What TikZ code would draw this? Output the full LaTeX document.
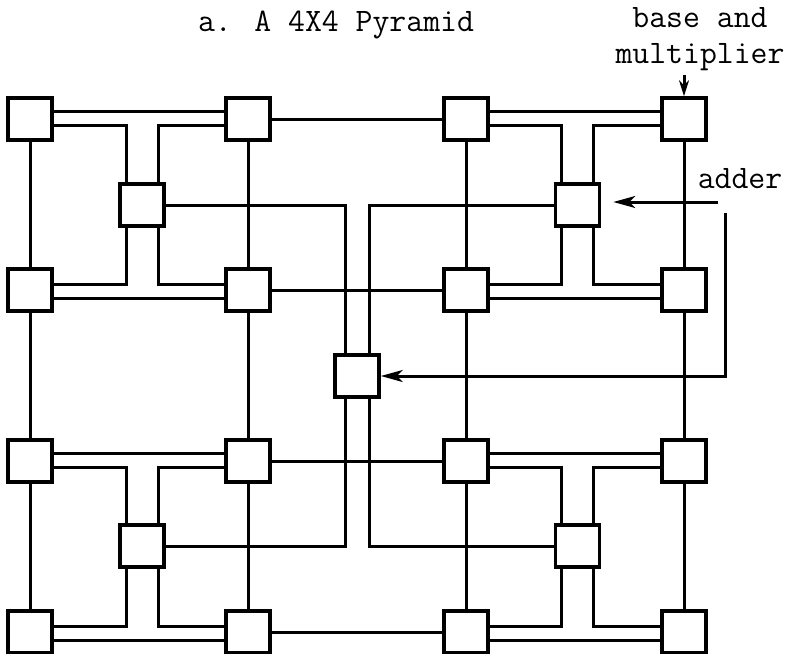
\documentclass[tikz,border=0pt]{standalone}
\usetikzlibrary{math,arrows.meta}

\begin{document}
\begin{tikzpicture}[x=0.5pt,y=-0.5pt,
    pe/.style={draw,line width=1.8pt,minimum width=22pt,minimum height=21pt,inner sep=0pt},
    wire/.style={line width=1.5pt},
    lbl/.style={font=\ttfamily\fontsize{16.4}{18}\selectfont,inner sep=0pt}]
  \useasboundingbox (0,0) rectangle (791,653);

  \foreach \i in {0,1,2,3} {
    \foreach \j in {0,1,2,3} {
      \tikzmath{
        real \x;
        real \y;
        \x = 30 + 218*\i;
        \y = 119 + 171*\j;
      }

      \node[pe] (b-\i-\j) at (\x,\y) {};
    }
  }

  \foreach \p in {0,1} {
    \foreach \q in {0,1} {
      \tikzmath{
        real \x;
        real \y;
        \x = 142 + 435.5*\p;
        \y = 205 + 341*\q;
      }

      \node[pe] (m-\p-\q) at (\x,\y) {};
    }
  }
  \node[pe] (top) at (357,376) {};

  \foreach \i in {0,1,2,3} {
    \foreach \j/\k in {0/1,1/2,2/3} {
      \draw[wire] (b-\i-\j) -- (b-\i-\k);
    }
    \draw[wire] (b-1-\i) -- (b-2-\i);
  }

  \foreach \p in {0,1} {
    \foreach \q in {0,1} {
      \tikzmath{
        int \ca;
        int \cb;
        int \ra;
        int \rb;
        \ca = 2*\p;
        \cb = \ca + 1;
        \ra = 2*\q;
        \rb = \ra + 1;
      }

      \draw[wire] ([yshift=4pt]b-\ca-\ra.east) -- ([yshift=4pt]b-\cb-\ra.west);
      \draw[wire] ([yshift=-4pt]b-\ca-\rb.east) -- ([yshift=-4pt]b-\cb-\rb.west);
      \draw[wire] ([yshift=-3pt]b-\ca-\ra.east) -| ([xshift=-8pt]m-\p-\q.north);
      \draw[wire] ([yshift=-3pt]b-\cb-\ra.west) -| ([xshift=8pt]m-\p-\q.north);
      \draw[wire] ([yshift=3pt]b-\ca-\rb.east) -| ([xshift=-8pt]m-\p-\q.south);
      \draw[wire] ([yshift=3pt]b-\cb-\rb.west) -| ([xshift=8pt]m-\p-\q.south);
    }
  }

  \draw[wire] (m-0-0.east) -| ([xshift=-6pt]top.north);
  \draw[wire] (m-1-0.west) -| ([xshift=6pt]top.north);
  \draw[wire] (m-0-1.east) -| ([xshift=-6pt]top.south);
  \draw[wire] (m-1-1.west) -| ([xshift=6pt]top.south);

  \node[lbl,anchor=base] (title) at (336,32) {a. A 4X4 Pyramid};
  \node[lbl,anchor=base,align=center] (bm) at (700,63) {base and\\multiplier};
  \node[lbl,anchor=base] (add) at (740,188) {adder};

  \coordinate (a1) at (718,202);
  \coordinate (a2) at (725,213);
  \draw[wire,shorten <=2pt,-{Stealth[length=8pt,width=5pt]}] (b-3-0.north |- bm.south) -- (b-3-0.north);
  \draw[wire,shorten >=6pt,-{Stealth[length=11pt,width=6pt,inset=3pt]}] (a1) -- (a1 -| m-1-0.east);
  \draw[wire,-{Stealth[length=11pt,width=6pt,inset=3pt]}] (a2) |- (top.east);
\end{tikzpicture}
\end{document}
